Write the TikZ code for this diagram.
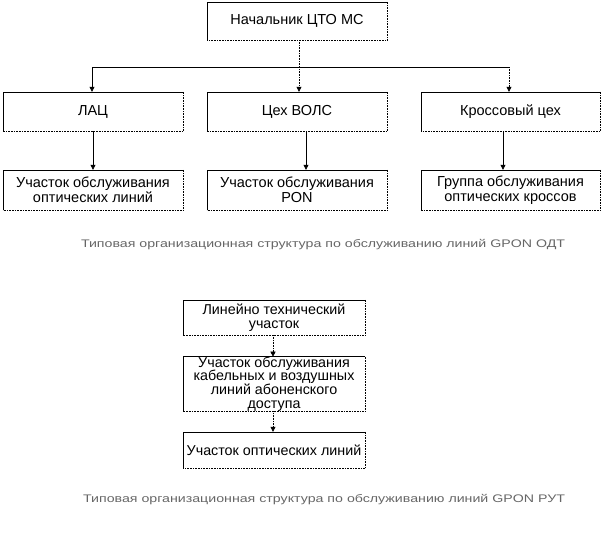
\documentclass[tikz,border=0pt]{standalone}
\usepackage{fontspec}
\setmainfont{Liberation Sans}
\usetikzlibrary{arrows.meta}
\tikzset{
  box/.style={draw=none, inner sep=0pt, align=center, font=\fontsize{14.5}{15}\selectfont},
  lbox/.style={box, minimum width=182pt, font=\fontsize{14.3}{13.6}\selectfont},
  arr/.style={-{Triangle[width=5pt,length=5pt]}, line width=0.6pt},
  darr/.style={arr, densely dotted},
  captxt/.style={inner sep=0pt, text=black!60, font=\fontsize{11}{13}\selectfont}
}
\newcommand{\frm}[1]{%
  \draw[line width=0.6pt] (#1.south west) -- (#1.north west) -- (#1.north east);
  \draw[line width=0.6pt, densely dotted] (#1.north east) -- (#1.south east) -- (#1.south west);}
\begin{document}
\begin{tikzpicture}[x=1pt,y=-1pt]
\useasboundingbox (0,0) rectangle (604,533);
% top section
\node[box, minimum width=180pt, minimum height=38pt] (top) at (297,21) {Начальник ЦТО МС};
\node[box, minimum width=180pt, minimum height=39pt] (lac) at (93,111.5) {ЛАЦ};
\node[box, minimum width=180pt, minimum height=39pt] (vols) at (297,111.5) {Цех ВОЛС};
\node[box, minimum width=179pt, minimum height=39pt] (kros) at (510.5,111.5) {Кроссовый цех};
\node[box, minimum width=180pt, minimum height=40pt] (b1) at (93,190) {Участок обслуживания\\оптических линий};
\node[box, minimum width=180pt, minimum height=40pt] (b2) at (297,190) {Участок обслуживания\\PON};
\node[box, minimum width=179pt, minimum height=40pt] (b3) at (510.5,190) {Группа обслуживания\\оптических кроссов};
\foreach \n in {top,lac,vols,kros,b1,b2,b3} {\frm{\n}}
\coordinate (hl) at (92,67);
\coordinate (hr) at (509,67);
\draw[line width=0.6pt] (hl) -- (hr);
\draw[arr] (hl) -- (hl |- lac.north);
\draw[darr] (hr) -- (hr |- kros.north);
\draw[darr] (top.south -| 299,0) -- (vols.north -| 299,0);
\draw[arr] (lac.south -| 93,0) -- (b1.north -| 93,0);
\draw[arr] (vols.south -| 306,0) -- (b2.north -| 306,0);
\draw[arr] (kros.south -| 503,0) -- (b3.north -| 503,0);
\node[captxt] (c1) at (323,245) {\scalebox{1.29}[1]{Типовая организационная структура по обслуживанию линий GPON ОДТ}};
% bottom section
\node[lbox, minimum height=35pt] (l1) at (274,317.5) {Линейно технический\\участок};
\node[lbox, minimum height=48pt] (l2) at (274,384) {Участок обслуживания\\кабельных и воздушных\\линий абоненского\\доступа};
\node[lbox, minimum height=36pt] (l3) at (274,450) {Участок оптических линий};
\foreach \n in {l1,l2,l3} {\frm{\n}}
\draw[darr] (l1.south -| 273,0) -- (l2.north -| 273,0);
\draw[darr] (l2.south -| 273,0) -- (l3.north -| 273,0);
\node[captxt] (c2) at (324,500) {\scalebox{1.29}[1]{Типовая организационная структура по обслуживанию линий GPON РУТ}};
\end{tikzpicture}
\end{document}
